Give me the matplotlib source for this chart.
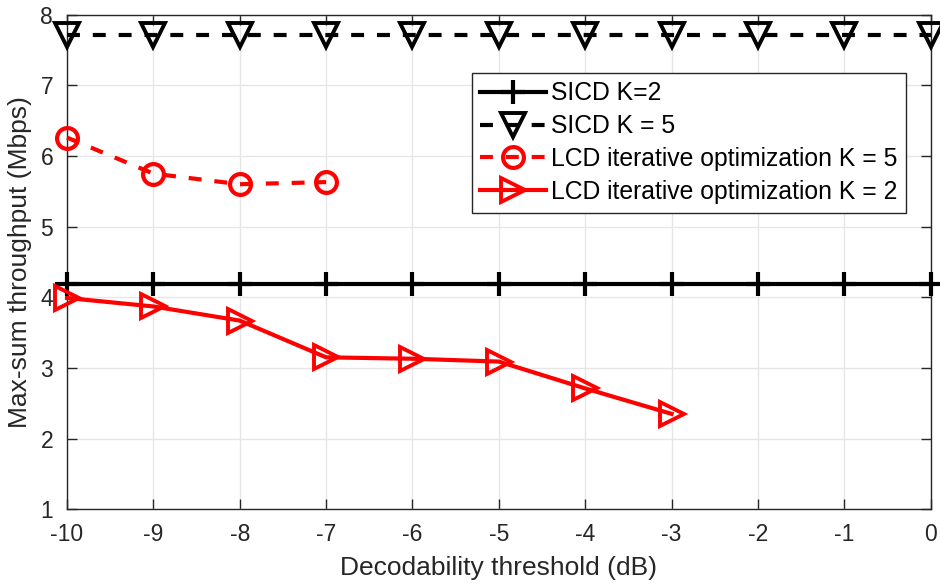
import matplotlib
matplotlib.use("Agg")
import matplotlib.pyplot as plt

plt.rcParams["font.family"] = ["Liberation Sans", "DejaVu Sans"]

# Decodability threshold sweep (dB)
thresholds = [-10, -9, -8, -7, -6, -5, -4, -3, -2, -1, 0]

# Max-sum throughput (Mbps)
sicd_k2 = [4.19] * len(thresholds)
sicd_k5 = [7.71] * len(thresholds)

lcd_k5_x = [-10, -9, -8, -7]
lcd_k5 = [6.26, 5.75, 5.60, 5.63]

lcd_k2_x = [-10, -9, -8, -7, -6, -5, -4, -3]
lcd_k2 = [3.99, 3.87, 3.67, 3.15, 3.13, 3.09, 2.71, 2.35]

tick_gray = "#262626"
dashed = (0, (3.1, 3.1))

fig = plt.figure(figsize=(9.4, 5.86), dpi=100)
ax = fig.add_axes([0.0713, 0.131, 0.9187, 0.844])

ax.plot(thresholds, sicd_k2, color="black", linestyle="-", linewidth=3,
        marker="+", markersize=17, markeredgewidth=3, label="SICD K=2",
        clip_on=False, zorder=3)
ax.plot(thresholds, sicd_k5, color="black", linestyle=dashed, linewidth=3,
        marker="v", markersize=17, markeredgewidth=2.8, markerfacecolor="none",
        label="SICD K = 5", clip_on=False, zorder=3)
ax.plot(lcd_k5_x, lcd_k5, color="red", linestyle=dashed, linewidth=3,
        marker="o", markersize=15, markeredgewidth=3, markerfacecolor="none",
        label="LCD iterative optimization K = 5", clip_on=False, zorder=3)
ax.plot(lcd_k2_x, lcd_k2, color="red", linestyle="-", linewidth=3,
        marker=">", markersize=17, markeredgewidth=2.8, markerfacecolor="none",
        label="LCD iterative optimization K = 2", clip_on=False, zorder=3)

ax.set_xlim(-10, 0)
ax.set_ylim(1, 8)
ax.set_xticks(thresholds)
ax.set_xticklabels([str(t) for t in thresholds])
ax.set_yticks(range(1, 9))

ax.grid(True, color="#e6e6e6", linewidth=1)
ax.set_axisbelow(True)
ax.tick_params(direction="in", length=7, width=1, colors=tick_gray,
               labelsize=16.5, top=True, right=True, pad=10)
for spine in ax.spines.values():
    spine.set_color(tick_gray)
    spine.set_linewidth(1)

ax.set_xlabel("Decodability threshold (dB)", fontsize=19, color=tick_gray, labelpad=7)
ax.set_ylabel("Max-sum throughput (Mbps)", fontsize=19, color=tick_gray, labelpad=6)

leg = ax.legend(loc="upper right", bbox_to_anchor=(0.9714, 0.8827), fontsize=17.8,
                handlelength=2.65, handletextpad=0.2, borderpad=0.35,
                labelspacing=0.36, fancybox=False, framealpha=1,
                edgecolor=tick_gray, borderaxespad=0)
leg.get_frame().set_linewidth(1)

fig.savefig("out.png", dpi=100)
